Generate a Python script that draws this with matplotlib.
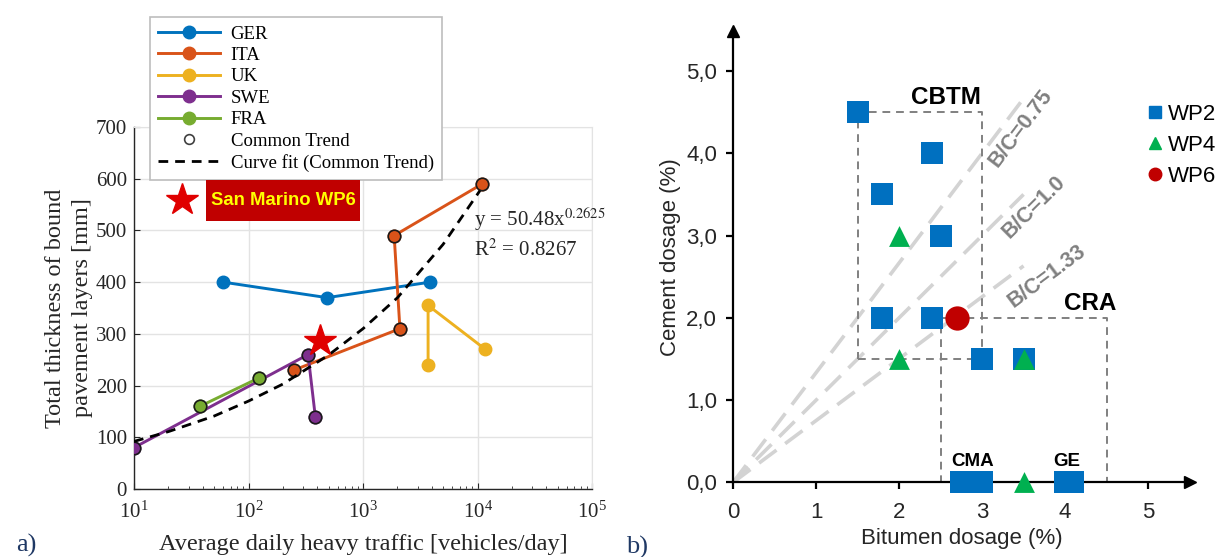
import numpy as np
import matplotlib.pyplot as plt
from matplotlib.lines import Line2D
from matplotlib.patches import Rectangle

plt.rcParams['mathtext.fontset'] = 'stix'

# ---------- a) thickness vs heavy traffic ----------
countries = ['GER', 'ITA', 'UK', 'SWE', 'FRA']
colors = ['#0072BD', '#D95319', '#EDB120', '#7E2F8E', '#77AC30']
ger_x = [60, 486, 3850]
ger_y = [400, 370, 400]
ita_x = [250, 2100, 1870, 11000]
ita_y = [230, 310, 490, 590]
uk_x = [3700, 3700, 11700]
uk_y = [240, 355, 270]
swe_x = [10, 331, 383]
swe_y = [80, 260, 140]
fra_x = [37.7, 124]
fra_y = [160, 215]
series_x = [ger_x, ita_x, uk_x, swe_x, fra_x]
series_y = [ger_y, ita_y, uk_y, swe_y, fra_y]
common = ['ITA', 'SWE', 'FRA']   # points that make the common trend

# curve fit
fit_x = [10, 20, 50, 100, 200, 500, 1000, 2000, 5000, 10500]
fit_y = [92, 111, 141, 170, 203, 259, 310, 370, 473, 577]

star_x = [26, 421]
star_y = [559, 286]

# ---------- b) bitumen vs cement dosage ----------
wp2_x = [1.5, 2.4, 1.8, 2.5, 1.8, 2.4, 3.0, 3.5, 2.75, 3.0, 4.0, 4.1]
wp2_y = [4.5, 4.0, 3.5, 3.0, 2.0, 2.0, 1.5, 1.5, 0.0, 0.0, 0.0, 0.0]
wp4_x = [2.0, 2.0, 3.5, 3.5]
wp4_y = [3.0, 1.5, 1.5, 0.0]
wp6_x = [2.7]
wp6_y = [2.0]
bc_ratio = [0.75, 1.0, 1.33]
bc_label = ['B/C=0.75', 'B/C=1.0', 'B/C=1.33']
bc_label_x = [3.47, 3.62, 3.78]
bc_label_y = [4.30, 3.35, 2.50]
bc_end = 3.5
cbtm_box = [1.5, 3.0, 1.5, 4.5]   # x0, x1, y0, y1
cra_box = [2.5, 4.5, 0.0, 2.0]
y_ticks = [0, 1, 2, 3, 4, 5]
y_ticklabels = ['0,0', '1,0', '2,0', '3,0', '4,0', '5,0']

fig = plt.figure(figsize=(12.25, 5.57), dpi=100)

serif = ['Liberation Serif', 'DejaVu Serif']
sans = ['Liberation Sans', 'DejaVu Sans']

# ================= left panel =================
ax1 = fig.add_axes([0.1094, 0.1221, 0.3739, 0.6499])
ax1.set_xscale('log')
ax1.set_xlim(10, 1e5)
ax1.set_ylim(0, 700)
ax1.set_yticks(range(0, 701, 100))
ax1.grid(True, which='major', color='#e3e3e3', lw=1)
ax1.set_axisbelow(True)
for s in ['top', 'right']:
    ax1.spines[s].set_color('#e3e3e3')
for s in ['left', 'bottom']:
    ax1.spines[s].set_color('#262626')
    ax1.spines[s].set_linewidth(1)
ax1.tick_params(which='both', direction='in', color='#262626', labelsize=15)
ax1.tick_params(which='major', length=4)
ax1.tick_params(axis='x', which='major', pad=9)
ax1.tick_params(axis='y', which='major', pad=5)
ax1.tick_params(which='minor', length=2.5)
ax1.tick_params(top=False, right=False, which='both')
for lab in ax1.get_xticklabels() + ax1.get_yticklabels():
    lab.set_family(serif)
    lab.set_color('#262626')

handles = []
for name, c, xs, ys in zip(countries, colors, series_x, series_y):
    h, = ax1.plot(xs, ys, '-o', color=c, lw=2.1, ms=9, mec=c, label=name, zorder=3)
    handles.append(h)
    if name in common:
        ax1.plot(xs, ys, 'o', ms=9, mfc='none', mec='#1a1a1a', mew=1.2, zorder=4)

fit_line, = ax1.plot(fit_x, fit_y, '--', color='black', lw=2, dashes=(3.5, 2.5), zorder=5)
ax1.plot(star_x, star_y, '*', color='#e00000', ms=24, mec='#e00000', zorder=6, clip_on=False)

ax1.text(9350, 521, 'y = 50.48x$^{0.2625}$', fontsize=15, family=serif, va='center', color='#262626')
ax1.text(9350, 462, 'R$^{2}$ = 0.8267', fontsize=15, family=serif, va='center', color='#262626')

ax1.set_xlabel('Average daily heavy traffic [vehicles/day]', fontsize=17.5, family=serif,
               color='#262626')
ax1.xaxis.set_label_coords(0.5, -0.125)
ax1.set_ylabel('Total thickness of bound\npavement layers [mm]', fontsize=17.5, family=serif,
               color='#262626', linespacing=1.35)
ax1.yaxis.set_label_coords(-0.0895, 0.5)

ct_handle = Line2D([], [], ls='none', marker='o', ms=7, mfc='none', mec='#404040', mew=1.2)
fit_handle = Line2D([], [], ls='--', color='black', lw=2, dashes=(3.5, 2.5))
leg = ax1.legend(handles + [ct_handle, fit_handle],
                 countries + ['Common Trend', 'Curve fit (Common Trend)'],
                 loc='upper left', bbox_to_anchor=(150 / 1225, 1 - 17 / 557),
                 bbox_transform=fig.transFigure, borderaxespad=0,
                 prop={'family': serif, 'size': 13.5}, handlelength=3.3,
                 labelspacing=0.23, fancybox=False, framealpha=1,
                 edgecolor='#bdbdbd', borderpad=0.45, handletextpad=0.55)
leg.get_frame().set_linewidth(1.2)
leg.set_zorder(10)

# San Marino tag
fig.patches.append(Rectangle((206 / 1225, 1 - 221 / 557), 154 / 1225, 41 / 557,
                             transform=fig.transFigure, facecolor='#c00000',
                             edgecolor='none', zorder=11))
fig.text(283 / 1225, 1 - 200.5 / 557, 'San Marino WP6', color='#ffff00', fontsize=13.3,
         fontweight='bold', family=['Liberation Sans Narrow', 'Liberation Sans', 'DejaVu Sans'],
         ha='center', va='center', zorder=12)

fig.text(16 / 1225, 1 - 545 / 557, 'a)', fontsize=19, family=serif, color='#1f3864',
         va='center', ha='left')

# ================= right panel =================
ax2 = fig.add_axes([0.5984, 0.1338, 0.3727, 0.8097])
ax2.set_xlim(0, 5.5)
ax2.set_ylim(0, 5.48)
for s in ['top', 'right']:
    ax2.spines[s].set_visible(False)
for s in ['left', 'bottom']:
    ax2.spines[s].set_linewidth(1.6)
    ax2.spines[s].set_color('black')
ax2.set_xticks(range(0, 6))
ax2.set_yticks(y_ticks)
ax2.set_yticklabels(y_ticklabels)
ax2.tick_params(direction='out', length=5, width=1.6, labelsize=16, color='black')
ax2.tick_params(axis='x', pad=9)
ax2.tick_params(axis='y', pad=6.5)
for lab in ax2.get_xticklabels() + ax2.get_yticklabels():
    lab.set_family(sans)
    lab.set_color('#262626')

# arrow heads on the axes
ax2.plot(1, 0, '>', color='black', ms=9, transform=ax2.transAxes, clip_on=False, zorder=8)
ax2.plot(0, 1, '^', color='black', ms=9, transform=ax2.transAxes, clip_on=False, zorder=8)

for r, lab, lx, ly in zip(bc_ratio, bc_label, bc_label_x, bc_label_y):
    ax2.plot([0, bc_end], [0, bc_end / r], color='#d3d3d3', lw=2.6, dashes=(6, 3), zorder=1)
    ang = np.degrees(np.arctan2(1.0 / r, 1.0))
    ax2.text(lx, ly, lab, rotation=ang, transform_rotates_text=True, rotation_mode='anchor',
             ha='center', va='center', fontsize=15.5, fontweight='bold', color='#808080',
             family=sans)

for bx in [cbtm_box, cra_box]:
    x0, x1, y0, y1 = bx
    ax2.plot([x0, x1, x1, x0, x0], [y0, y0, y1, y1, y0], color='#808080', lw=1.4,
             dashes=(4, 3), zorder=2, clip_on=False)

ax2.scatter(wp2_x, wp2_y, marker='s', s=15.5 ** 2, color='#0070c0', zorder=4, clip_on=False,
            linewidths=0)
ax2.scatter(wp4_x, wp4_y, marker='^', s=15 ** 2, color='#00b050', zorder=5, clip_on=False,
            linewidths=0)
ax2.scatter(wp6_x, wp6_y, marker='o', s=17.5 ** 2, color='#c00000', zorder=6, clip_on=False,
            linewidths=0)

ax2.text(2.57, 4.68, 'CBTM', fontsize=17.5, fontweight='bold', family=sans, ha='center', va='center')
ax2.text(4.30, 2.18, 'CRA', fontsize=17.5, fontweight='bold', family=sans, ha='center', va='center')
ax2.text(2.89, 0.26, 'CMA', fontsize=13.5, fontweight='bold', family=sans, ha='center', va='center')
ax2.text(4.02, 0.25, 'GE', fontsize=13.5, fontweight='bold', family=sans, ha='center', va='center')

ax2.set_xlabel('Bitumen dosage (%)', fontsize=16, family=sans, color='#262626')
ax2.xaxis.set_label_coords(0.5, -0.1)
ax2.set_ylabel('Cement dosage (%)', fontsize=16, family=sans, color='#262626')
ax2.yaxis.set_label_coords(-0.1146, 0.5)

lh = [Line2D([], [], ls='none', marker='s', ms=9, color='#0070c0'),
      Line2D([], [], ls='none', marker='^', ms=9, color='#00b050'),
      Line2D([], [], ls='none', marker='o', ms=9, color='#c00000')]
ax2.legend(lh, ['WP2', 'WP4', 'WP6'], loc='upper left', bbox_to_anchor=(1147 / 1225, 1 - 104 / 557),
           bbox_transform=fig.transFigure, borderaxespad=0, frameon=False,
           prop={'family': sans, 'size': 16}, handlelength=0.7, handletextpad=0.25,
           labelspacing=0.45, borderpad=0)

fig.text(626 / 1225, 1 - 547 / 557, 'b)', fontsize=19, family=serif, color='#1f3864',
         va='center', ha='left')

fig.savefig('out.png', dpi=100)
